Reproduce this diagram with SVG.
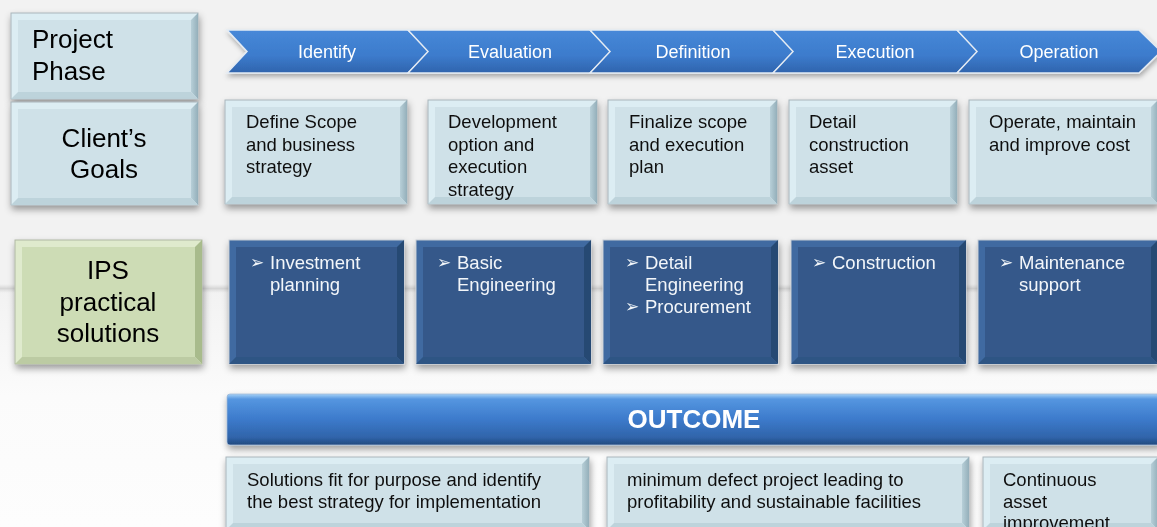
<svg xmlns="http://www.w3.org/2000/svg" width="1157" height="527" viewBox="0 0 1157 527">
<defs>
  <linearGradient id="bg" x1="0" y1="0" x2="0" y2="1">
    <stop offset="0" stop-color="#f2f2f2"/>
    <stop offset="0.55" stop-color="#f2f2f2"/>
    <stop offset="0.75" stop-color="#fbfbfb"/>
    <stop offset="1" stop-color="#fdfdfd"/>
  </linearGradient>
  <linearGradient id="hl" x1="0" y1="0" x2="0" y2="1">
    <stop offset="0" stop-color="#dcdcdc" stop-opacity="0"/>
    <stop offset="0.5" stop-color="#d6d6d6"/>
    <stop offset="1" stop-color="#dcdcdc" stop-opacity="0"/>
  </linearGradient>
  <linearGradient id="chev" x1="0" y1="0" x2="0" y2="1">
    <stop offset="0" stop-color="#4788d8"/>
    <stop offset="0.6" stop-color="#3c7bcc"/>
    <stop offset="1" stop-color="#2f64ad"/>
  </linearGradient>
  <linearGradient id="outc" x1="0" y1="0" x2="0" y2="1">
    <stop offset="0" stop-color="#a6d2f7"/>
    <stop offset="0.1" stop-color="#5596e0"/>
    <stop offset="0.5" stop-color="#3c7acb"/>
    <stop offset="0.85" stop-color="#3064aa"/>
    <stop offset="1" stop-color="#22497e"/>
  </linearGradient>
  <linearGradient id="lrg" x1="0" y1="0" x2="1" y2="0">
    <stop offset="0" stop-color="#b7cfd8"/>
    <stop offset="1" stop-color="#94afba"/>
  </linearGradient>
  <filter id="sh" x="-10%" y="-15%" width="125%" height="145%">
    <feDropShadow dx="1" dy="4" stdDeviation="3.5" flood-color="#000" flood-opacity="0.38"/>
  </filter>
  <filter id="shc" x="-5%" y="-20%" width="115%" height="160%">
    <feDropShadow dx="1" dy="3" stdDeviation="2.5" flood-color="#000" flood-opacity="0.3"/>
  </filter>
</defs>
<style>
  .lo{fill:#dcedf3;stroke:#a9b6bc;stroke-width:1}
  .lr{fill:url(#lrg)}
  .lb{fill:#bdd3db}
  .lf{fill:#cfe1e8}
  .go{fill:#dfeacd;stroke:#b0b8a4;stroke-width:1}
  .gr{fill:#a8bb8c}
  .gb{fill:#bccba3}
  .gf{fill:#cddcb5}
  .do{fill:#3f6aa1;stroke:#c5ccd4;stroke-width:1}
  .dr{fill:#274a73}
  .db{fill:#2e5484}
  .df{fill:#35598a}
  .chev{fill:url(#chev);stroke:#e4ebf3;stroke-width:1.5;stroke-linejoin:miter}
  text{font-family:"Liberation Sans",Arial,sans-serif}
  .big{font-size:26px;fill:#000}
  .mid{font-size:18.5px;fill:#111}
  .wh{font-size:18.5px;fill:#f3f6fa}
  .ct{font-size:18px;fill:#fff;text-anchor:middle}
  .bul{font-family:"DejaVu Sans",sans-serif;font-size:17px;fill:#f3f6fa}
  .oc{font-size:26px;font-weight:bold;fill:#fff;text-anchor:middle}
</style>

<rect x="0" y="0" width="1157" height="527" fill="url(#bg)"/>
<rect x="0" y="284" width="1157" height="9" fill="url(#hl)"/>

<g id="connectors"></g>

<g id="phase-chevrons" filter="url(#shc)">
  <path class="chev" d="M227,30 L408,30 L430,51.5 L408,73 L227,73 L247,51.5 Z"/>
  <path class="chev" d="M408,30 L590,30 L612,51.5 L590,73 L408,73 L428,51.5 Z"/>
  <path class="chev" d="M590,30 L773,30 L795,51.5 L773,73 L590,73 L610,51.5 Z"/>
  <path class="chev" d="M773,30 L957,30 L979,51.5 L957,73 L773,73 L793,51.5 Z"/>
  <path class="chev" d="M957,30 L1139,30 L1161,51.5 L1139,73 L957,73 L977,51.5 Z"/>
  <text class="ct" x="327" y="58">Identify</text>
  <text class="ct" x="510" y="58">Evaluation</text>
  <text class="ct" x="693" y="58">Definition</text>
  <text class="ct" x="875" y="58">Execution</text>
  <text class="ct" x="1059" y="58">Operation</text>
</g>

<g id="project-phase" filter="url(#sh)">
  <rect class="lo" x="11" y="13" width="187" height="86"/>
  <polygon class="lr" points="198,13 198,99 191,92 191,20"/>
  <polygon class="lb" points="11,99 18,92 191,92 198,99"/>
  <rect class="lf" x="18" y="20" width="173" height="72"/>
  <text class="big" x="32" y="48">Project</text>
  <text class="big" x="32" y="80">Phase</text>
</g>

<g id="clients-goals" filter="url(#sh)">
  <rect class="lo" x="11" y="102" width="187" height="103"/>
  <polygon class="lr" points="198,102 198,205 191,198 191,109"/>
  <polygon class="lb" points="11,205 18,198 191,198 198,205"/>
  <rect class="lf" x="18" y="109" width="173" height="89"/>
  <text class="big" x="104" y="147" text-anchor="middle">Client’s</text>
  <text class="big" x="104" y="178" text-anchor="middle">Goals</text>
</g>

<g id="goal-identify" filter="url(#sh)">
  <rect class="lo" x="225" y="100" width="182" height="104"/>
  <polygon class="lr" points="407,100 407,204 400,197 400,107"/>
  <polygon class="lb" points="225,204 232,197 400,197 407,204"/>
  <rect class="lf" x="232" y="107" width="168" height="90"/>
  <text class="mid" x="246" y="128">Define Scope</text>
  <text class="mid" x="246" y="150.5">and business</text>
  <text class="mid" x="246" y="173">strategy</text>
</g>

<g id="goal-evaluation" filter="url(#sh)">
  <rect class="lo" x="428" y="100" width="169" height="104"/>
  <polygon class="lr" points="597,100 597,204 590,197 590,107"/>
  <polygon class="lb" points="428,204 435,197 590,197 597,204"/>
  <rect class="lf" x="435" y="107" width="155" height="90"/>
  <text class="mid" x="448" y="128">Development</text>
  <text class="mid" x="448" y="150.5">option and</text>
  <text class="mid" x="448" y="173">execution</text>
  <text class="mid" x="448" y="195.5">strategy</text>
</g>

<g id="goal-definition" filter="url(#sh)">
  <rect class="lo" x="608" y="100" width="169" height="104"/>
  <polygon class="lr" points="777,100 777,204 770,197 770,107"/>
  <polygon class="lb" points="608,204 615,197 770,197 777,204"/>
  <rect class="lf" x="615" y="107" width="155" height="90"/>
  <text class="mid" x="629" y="128">Finalize scope</text>
  <text class="mid" x="629" y="150.5">and execution</text>
  <text class="mid" x="629" y="173">plan</text>
</g>

<g id="goal-execution" filter="url(#sh)">
  <rect class="lo" x="789" y="100" width="168" height="104"/>
  <polygon class="lr" points="957,100 957,204 950,197 950,107"/>
  <polygon class="lb" points="789,204 796,197 950,197 957,204"/>
  <rect class="lf" x="796" y="107" width="154" height="90"/>
  <text class="mid" x="809" y="128">Detail</text>
  <text class="mid" x="809" y="150.5">construction</text>
  <text class="mid" x="809" y="173">asset</text>
</g>

<g id="goal-operation" filter="url(#sh)">
  <rect class="lo" x="969" y="100" width="189" height="104"/>
  <polygon class="lr" points="1158,100 1158,204 1151,197 1151,107"/>
  <polygon class="lb" points="969,204 976,197 1151,197 1158,204"/>
  <rect class="lf" x="976" y="107" width="175" height="90"/>
  <text class="mid" x="989" y="128">Operate, maintain</text>
  <text class="mid" x="989" y="150.5">and improve cost</text>
</g>

<g id="ips-solutions" filter="url(#sh)">
  <rect class="go" x="15" y="240" width="187" height="124"/>
  <polygon class="gr" points="202,240 202,364 195,357 195,247"/>
  <polygon class="gb" points="15,364 22,357 195,357 202,364"/>
  <rect class="gf" x="22" y="247" width="173" height="110"/>
  <text class="big" x="108" y="279" text-anchor="middle">IPS</text>
  <text class="big" x="108" y="311" text-anchor="middle">practical</text>
  <text class="big" x="108" y="342" text-anchor="middle">solutions</text>
</g>

<g id="sol-investment" filter="url(#sh)">
  <rect class="do" x="229" y="240" width="175" height="124"/>
  <polygon class="dr" points="404,240 404,364 397,357 397,247"/>
  <polygon class="db" points="229,364 236,357 397,357 404,364"/>
  <rect class="df" x="236" y="247" width="161" height="110"/>
  <text class="bul" x="250" y="268">➢</text>
  <text class="wh" x="270" y="269">Investment</text>
  <text class="wh" x="270" y="291">planning</text>
</g>

<g id="sol-basic" filter="url(#sh)">
  <rect class="do" x="416" y="240" width="175" height="124"/>
  <polygon class="dr" points="591,240 591,364 584,357 584,247"/>
  <polygon class="db" points="416,364 423,357 584,357 591,364"/>
  <rect class="df" x="423" y="247" width="161" height="110"/>
  <text class="bul" x="437" y="268">➢</text>
  <text class="wh" x="457" y="269">Basic</text>
  <text class="wh" x="457" y="291">Engineering</text>
</g>

<g id="sol-detail" filter="url(#sh)">
  <rect class="do" x="603" y="240" width="175" height="124"/>
  <polygon class="dr" points="778,240 778,364 771,357 771,247"/>
  <polygon class="db" points="603,364 610,357 771,357 778,364"/>
  <rect class="df" x="610" y="247" width="161" height="110"/>
  <text class="bul" x="625" y="268">➢</text>
  <text class="wh" x="645" y="269">Detail</text>
  <text class="wh" x="645" y="291">Engineering</text>
  <text class="bul" x="625" y="312">➢</text>
  <text class="wh" x="645" y="313">Procurement</text>
</g>

<g id="sol-construction" filter="url(#sh)">
  <rect class="do" x="791" y="240" width="175" height="124"/>
  <polygon class="dr" points="966,240 966,364 959,357 959,247"/>
  <polygon class="db" points="791,364 798,357 959,357 966,364"/>
  <rect class="df" x="798" y="247" width="161" height="110"/>
  <text class="bul" x="812" y="268">➢</text>
  <text class="wh" x="832" y="269">Construction</text>
</g>

<g id="sol-maintenance" filter="url(#sh)">
  <rect class="do" x="978" y="240" width="180" height="124"/>
  <polygon class="dr" points="1158,240 1158,364 1151,357 1151,247"/>
  <polygon class="db" points="978,364 985,357 1151,357 1158,364"/>
  <rect class="df" x="985" y="247" width="166" height="110"/>
  <text class="bul" x="999" y="268">➢</text>
  <text class="wh" x="1019" y="269">Maintenance</text>
  <text class="wh" x="1019" y="291">support</text>
</g>

<g id="outcome" filter="url(#sh)">
  <rect x="227" y="394" width="934" height="51" rx="3" fill="url(#outc)" stroke="#9fb8d6" stroke-width="0.8"/>
  <text class="oc" x="694" y="428">OUTCOME</text>
</g>

<g id="outcome-1" filter="url(#sh)">
  <rect class="lo" x="226" y="457" width="363" height="73"/>
  <polygon class="lr" points="589,457 589,530 582,523 582,464"/>
  <polygon class="lb" points="226,530 233,523 582,523 589,530"/>
  <rect class="lf" x="233" y="464" width="349" height="59"/>
  <text class="mid" x="247" y="486">Solutions fit for purpose and identify</text>
  <text class="mid" x="247" y="507.5">the best strategy for implementation</text>
</g>

<g id="outcome-2" filter="url(#sh)">
  <rect class="lo" x="607" y="457" width="362" height="73"/>
  <polygon class="lr" points="969,457 969,530 962,523 962,464"/>
  <polygon class="lb" points="607,530 614,523 962,523 969,530"/>
  <rect class="lf" x="614" y="464" width="348" height="59"/>
  <text class="mid" x="627" y="486">minimum defect project leading to</text>
  <text class="mid" x="627" y="507.5">profitability and sustainable facilities</text>
</g>

<g id="outcome-3" filter="url(#sh)">
  <rect class="lo" x="983" y="457" width="175" height="73"/>
  <polygon class="lr" points="1158,457 1158,530 1151,523 1151,464"/>
  <polygon class="lb" points="983,530 990,523 1151,523 1158,530"/>
  <rect class="lf" x="990" y="464" width="161" height="59"/>
  <text class="mid" x="1003" y="486">Continuous</text>
  <text class="mid" x="1003" y="507.5">asset</text>
  <text class="mid" x="1003" y="529">improvement</text>
</g>
</svg>
